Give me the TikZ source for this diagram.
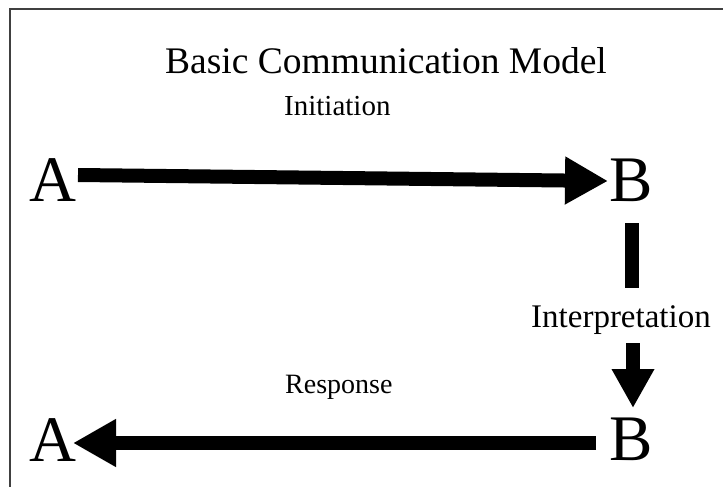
\documentclass[tikz,border=0pt]{standalone}
\usepackage{fontspec}
\setmainfont{Liberation Serif}
\usetikzlibrary{arrows.meta}

\begin{document}
\begin{tikzpicture}[x=1pt,y=-1pt,
  letter/.style={inner sep=0pt, anchor=base west, font=\fontsize{65}{65}\selectfont},
  caption/.style={inner sep=0pt, anchor=base west},
  flow/.style={line width=14pt, -{Triangle[length=43pt,width=45pt]}},
  bar/.style={line width=14pt}]
  \useasboundingbox (0,0) rectangle (723,487);
  % frame (only its top and left edges fall inside the page)
  \draw[line width=1.6pt, black!75] (10,490) -- (10,9) -- (726,9);

  % title and labels
  \node[inner sep=0pt, anchor=base, font=\fontsize{37.5}{37.5}\selectfont] (title) at (386,74) {Basic Communication Model};
  \node[caption, font=\fontsize{29}{29}\selectfont] (init) at (284,115) {Initiation};
  \node[caption, font=\fontsize{33}{33}\selectfont] (interp) at (531,327) {Interpretation};
  \node[caption, font=\fontsize{28}{28}\selectfont] (resp) at (285,393) {Response};

  % parties
  \node[letter] (A1) at (29,201) {A};
  \node[letter] (B1) at (609,201) {B};
  \node[letter] (B2) at (609,460) {B};
  \node[letter] (A2) at (29,461) {A};

  % connector end points
  \coordinate (a1out) at (78,175);
  \coordinate (b1in)  at (608,181);
  \coordinate (b1out) at (632,223);
  \coordinate (barend) at (632,288);
  \coordinate (ipout) at (633,343);
  \coordinate (b2in)  at (633,408);
  \coordinate (b2out) at (596,443);
  \coordinate (a2in)  at (73,443);

  % connectors
  \draw[flow] (a1out) -- (b1in);
  \draw[bar] (b1out) -- (barend);
  \draw[flow, -{Triangle[length=39pt,width=40pt]}] (ipout) -- (b2in);
  \draw[flow] (b2out) -- (a2in);
\end{tikzpicture}
\end{document}
